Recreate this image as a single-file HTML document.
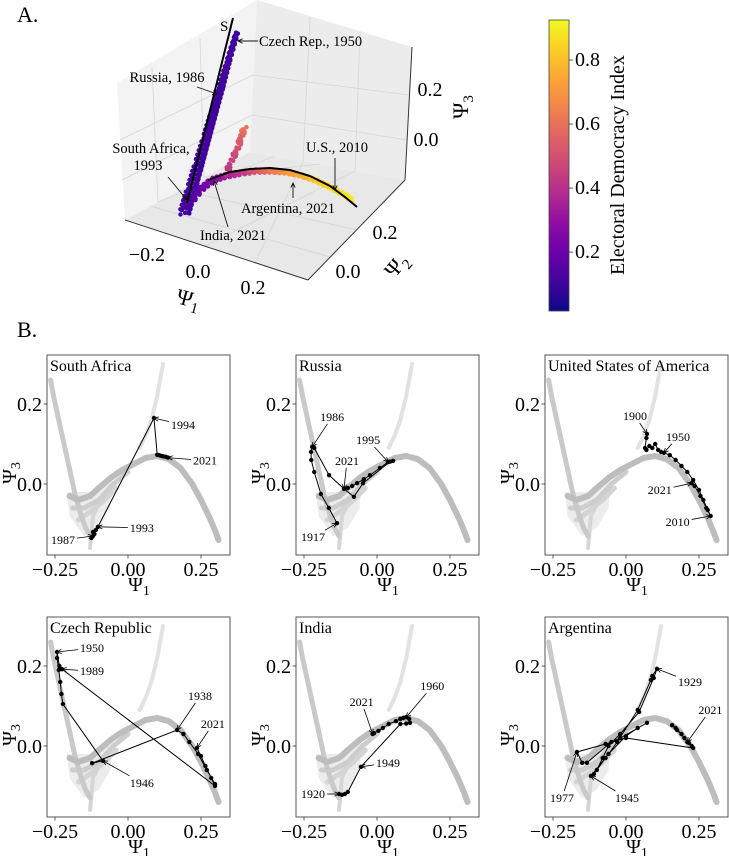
<!DOCTYPE html>
<html><head><meta charset="utf-8"><style>
html,body{margin:0;padding:0;background:#fff;}
svg{display:block;font-family:"Liberation Serif",serif;}
</style></head><body>
<svg id="fig" width="729" height="856" viewBox="0 0 729 856" xmlns="http://www.w3.org/2000/svg">
<text x="17" y="22" font-size="22">A.</text>
<text x="17" y="337" font-size="22">B.</text>
<g id="g3d">
  <polygon points="117,83 125,220 250,152 257,0" fill="#f3f3f3"/>
  <polygon points="257,0 250,152 405,180 412,47" fill="#ececec"/>
  <polygon points="125,220 250,152 405,180 308,280" fill="#e8e8e8"/>
  <g stroke="#d6d6d6" stroke-width="0.8" fill="none">
    <line x1="152" y1="67" x2="158" y2="202"/><line x1="200" y1="38" x2="204" y2="177"/>
    <line x1="310" y1="17" x2="303" y2="162"/><line x1="360" y1="32" x2="355" y2="171"/>
    <line x1="120" y1="140" x2="253" y2="75"/><line x1="122" y1="180" x2="252" y2="115"/>
    <line x1="253" y1="75" x2="409" y2="95"/><line x1="252" y1="115" x2="407" y2="140"/>
    <line x1="150" y1="206" x2="330" y2="257"/><line x1="180" y1="190" x2="357" y2="230"/>
    <line x1="158" y1="202" x2="275" y2="156"/><line x1="204" y1="177" x2="320" y2="164"/>
    <line x1="255" y1="263" x2="303" y2="162"/><line x1="205" y1="246" x2="355" y2="171"/>
  </g>
  <g stroke="#333" stroke-width="1">
    <line x1="125" y1="220" x2="308" y2="280"/><line x1="308" y1="280" x2="405" y2="180"/><line x1="405" y1="180" x2="412" y2="47"/>
  </g>
  <g id="pts3d"></g>
  <g font-size="20" text-anchor="middle" dominant-baseline="central">
    <text x="147" y="255">−0.2</text><text x="198" y="272">0.0</text><text x="253" y="288">0.2</text>
    <text x="385" y="233">0.2</text><text x="348" y="272">0.0</text>
    <text x="430" y="90">0.2</text><text x="426" y="140">0.0</text>
  </g>
  <text x="188" y="306" font-size="22" text-anchor="middle" transform="rotate(15 188 300)">Ψ<tspan dy="5" font-size="15">1</tspan></text>
  <text x="398" y="272" font-size="22" text-anchor="middle" transform="rotate(-50 398 267)">Ψ<tspan dy="5" font-size="15">2</tspan></text>
  <text x="462" y="113" font-size="22" text-anchor="middle" transform="rotate(-90 462 107)">Ψ<tspan dy="5" font-size="15">3</tspan></text>
  <g font-size="14.5" stroke-width="0.9">
    <text x="220" y="31" font-size="15">S</text>
    <text x="259" y="46">Czech Rep., 1950</text>
    <text x="167" y="82" text-anchor="middle">Russia, 1986</text>
    <text x="151" y="153" text-anchor="middle">South Africa,</text>
    <text x="148" y="170" text-anchor="middle">1993</text>
    <text x="233" y="240" text-anchor="middle">India, 2021</text>
    <text x="288" y="213" text-anchor="middle">Argentina, 2021</text>
    <text x="337" y="152" text-anchor="middle">U.S., 2010</text>
  </g>
  <g id="arr3d" stroke="#111" stroke-width="0.9" fill="none"></g>
</g>
<g id="cbar">
  <defs><linearGradient id="plasma" x1="0" y1="1" x2="0" y2="0">
    <stop offset="0" stop-color="#0d0887"/><stop offset="0.1" stop-color="#41049d"/><stop offset="0.2" stop-color="#6a00a8"/><stop offset="0.3" stop-color="#8f0da4"/><stop offset="0.4" stop-color="#b12a90"/><stop offset="0.5" stop-color="#cc4778"/><stop offset="0.6" stop-color="#e16462"/><stop offset="0.7" stop-color="#f2844b"/><stop offset="0.8" stop-color="#fca636"/><stop offset="0.9" stop-color="#fcce25"/><stop offset="1" stop-color="#f0f921"/>
  </linearGradient></defs>
  <rect x="549" y="20" width="20" height="291" fill="url(#plasma)" stroke="#444" stroke-width="0.8"/>
  <g id="cbticks"></g>
  <text x="618" y="165" font-size="20" text-anchor="middle" dominant-baseline="central" transform="rotate(-90 618 165)">Electoral Democracy Index</text>
</g>
<g id="panels"></g>
</svg>
<script>
// ---------- 3D data (Psi1, Psi2, Psi3) and EDI ----------
const spikeP1=[-0.110,-0.124,-0.138,-0.152,-0.166,-0.179,-0.194,-0.210];
const spikeP2=[-0.006,0.046,0.098,0.150,0.202,0.253,0.305,0.368];
const spikeP3=[-0.13,-0.08,-0.03,0.02,0.07,0.12,0.17,0.23];
const spikeEDI=[0.10,0.12,0.10,0.12,0.10,0.10,0.12,0.10];
const curveP1=[-0.114,-0.089,-0.0545,-0.0075,0.048,0.099,0.1526,0.2005,0.246,0.289,0.331,0.369,0.382];
const curveP2=[0.008,0.0385,0.052,0.0547,0.056,0.063,0.067,0.078,0.0915,0.1086,0.127,0.151,0.168];
const curveP3=[-0.12,-0.07,-0.03,0.0,0.03,0.05,0.065,0.068,0.06,0.04,0.01,-0.03,-0.06];
const curveEDI=[0.12,0.18,0.25,0.32,0.40,0.50,0.60,0.68,0.75,0.80,0.85,0.88,0.90];
const armP1=[0.0269,0.0373,0.0559,0.066,0.087];
const armP2=[0.0161,0.0316,0.0366,0.0429,0.0307];
const armP3=[0.05,0.10,0.15,0.20,0.25];
const armEDI=[0.40,0.45,0.50,0.55,0.62];
const sLineP1=[-0.125,-0.2396];
const sLineP2=[0.022,0.3857];
const sLineP3=[-0.12,0.26];
const fitP1=[-0.059,0.0096,0.079,0.148,0.212,0.278,0.342,0.388,0.4225];
const fitP2=[0.0389,0.057,0.0641,0.073,0.087,0.0994,0.1135,0.127,0.1407];
const fitP3=[-0.02,0.02,0.05,0.07,0.072,0.06,0.03,-0.01,-0.05];
const cbTicks=[0.2,0.4,0.6,0.8];
const cbMin=0.016, cbMax=0.925;

const NS='http://www.w3.org/2000/svg';
function mk(tag,attrs,parent){const e=document.createElementNS(NS,tag);for(const k in attrs)e.setAttribute(k,attrs[k]);if(parent)parent.appendChild(e);return e;}
function proj(a,b,c){return [215.5+265*a+210*b,188.7+87*a-220*b-250*c];}
const plasma=[[13,8,135],[65,4,157],[106,0,168],[143,13,164],[177,42,144],[204,71,120],[225,100,98],[242,132,75],[252,166,54],[252,206,37],[240,249,33]];
function cmap(v){let t=(v-cbMin)/(cbMax-cbMin);t=Math.max(0,Math.min(1,t));const f=t*10,i=Math.min(9,Math.floor(f)),r=f-i;const a=plasma[i],b=plasma[i+1];return 'rgb('+a.map((x,k)=>Math.round(x+(b[k]-x)*r)).join(',')+')';}
function cbY(v){return 311-(v-cbMin)/(cbMax-cbMin)*291;}

const cbt=document.getElementById('cbticks');
cbTicks.forEach(v=>{
  const ln=mk('line',{x1:569,x2:573,y1:cbY(v),y2:cbY(v),stroke:'#333','stroke-width':0.8},cbt);
  
  
  const t=mk('text',{x:575,y:cbY(v),'font-size':20,'dominant-baseline':'central'},cbt);
  
  
  t.textContent=v.toFixed(1);
});

const g3=document.getElementById('pts3d');
const jit=[[0,0],[-1.6,1.2],[1.5,-1],[-0.8,-1.8],[1.2,1.7],[-1.9,-0.3],[0.6,2.1]];
function series3d(P1,P2,P3,E,name,steps,spreadFn){
  const g=mk('g',{},g3);
  
  
  const n=P1.length-1;
  for(let i=0;i<n;i++){
    for(let s=0;s<steps;s++){
      const r=s/steps;
      const p=proj(P1[i]+(P1[i+1]-P1[i])*r,P2[i]+(P2[i+1]-P2[i])*r,P3[i]+(P3[i+1]-P3[i])*r);
      const col=cmap(E[i]+(E[i+1]-E[i])*r);
      const j=jit[s%jit.length];
      const k=spreadFn((i+r)/n);
      const c=mk('circle',{cx:p[0]+j[0]*k,cy:p[1]+j[1]*k*0.6,r:2.2,fill:col},g);
      
      
    }
  }
}
series3d(spikeP1,spikeP2,spikeP3,spikeEDI,'autocracy-spike-points',40,t=>0.8+(1-t)*2.2);
series3d(curveP1,curveP2,curveP3,curveEDI,'democracy-curve-points',22,t=>1.6-t*0.6);
series3d(armP1,armP2,armP3,armEDI,'secondary-arm-points',10,t=>1.2);
function line3d(P1,P2,P3,name){
  const pts=P1.map((v,i)=>proj(v,P2[i],P3[i]).join(',')).join(' ');
  const pl=mk('polyline',{points:pts,fill:'none',stroke:'#000','stroke-width':2},g3);
  
  
}
line3d(sLineP1,sLineP2,sLineP3,'s-curve-line');
line3d(fitP1,fitP2,fitP3,'fitted-curve-line');

function arrowTo(g,x1,y1,x2,y2){
  mk('line',{x1:x1,y1:y1,x2:x2,y2:y2},g);
  const a=Math.atan2(y2-y1,x2-x1),h=5,w=0.45;
  mk('polyline',{points:(x2-h*Math.cos(a-w))+','+(y2-h*Math.sin(a-w))+' '+x2+','+y2+' '+(x2-h*Math.cos(a+w))+','+(y2-h*Math.sin(a+w))},g);
}
const a3=document.getElementById('arr3d');


[[258,41,238,41],[197,87,217,94],[168,177,187,200],[228,227,214,181],[293,198,293,183],[335,158,335,190]].forEach(a=>arrowTo(a3,a[0],a[1],a[2],a[3]));

// ---------- 2D panels ----------
const bandLeftX=[-0.265,-0.255,-0.24,-0.225,-0.21,-0.195,-0.18,-0.16,-0.145,-0.13];
const bandLeftY=[0.26,0.22,0.17,0.12,0.07,0.02,-0.03,-0.08,-0.11,-0.13];
const bandMainX=[-0.2,-0.17,-0.13,-0.1,-0.06,-0.02,0.02,0.06,0.1,0.14,0.18,0.22,0.25,0.28,0.3,0.31];
const bandMainY=[-0.03,-0.04,-0.03,-0.01,0.015,0.035,0.05,0.065,0.07,0.062,0.04,0.0,-0.04,-0.085,-0.12,-0.14];
const bandLow1X=[-0.19,-0.15,-0.1,-0.05,0.0];
const bandLow1Y=[-0.06,-0.06,-0.04,0.0,0.03];
const bandLow2X=[-0.17,-0.13,-0.08,-0.04];
const bandLow2Y=[-0.09,-0.07,-0.04,-0.01];
const armRX=[0.12,0.1,0.08,0.06,0.04];
const armRY=[0.3,0.22,0.16,0.12,0.09];
const spikeLowX=[-0.13,-0.125,-0.12,-0.1];
const spikeLowY=[-0.16,-0.12,-0.08,-0.05];

const saX=[-0.12,-0.125,-0.12,-0.115,-0.11,-0.103,0.089,0.1,0.107,0.115,0.122,0.13,0.137];
const saY=[-0.13,-0.135,-0.12,-0.125,-0.115,-0.107,0.165,0.073,0.072,0.07,0.069,0.068,0.066];
const saLabels=['1994','2021','1993','1987'];
const saIdx=[6,12,5,0];
const saOff=[[29,7],[37,3],[44,1],[-30,4]];

const ruX=[-0.137,-0.165,-0.192,-0.215,-0.225,-0.226,-0.222,-0.215,-0.164,-0.113,-0.1,-0.085,-0.068,-0.045,-0.024,0.01,0.038,0.055,0.045,-0.048,-0.079,-0.113];
const ruY=[-0.098,-0.06,-0.025,0.03,0.06,0.08,0.093,0.09,0.022,-0.012,-0.01,-0.005,0.002,0.012,0.022,0.04,0.055,0.058,0.056,0.002,-0.032,-0.012];
const ruLabels=['1986','1995','2021','1917'];
const ruIdx=[6,16,21,0];
const ruOff=[[20,-30],[-20,-22],[3,-28],[-24,14]];

const usX=[0.072,0.07,0.065,0.07,0.08,0.09,0.1,0.11,0.12,0.13,0.15,0.17,0.19,0.21,0.23,0.25,0.265,0.28,0.29,0.275,0.255,0.235,0.225];
const usY=[0.125,0.115,0.09,0.085,0.095,0.09,0.1,0.085,0.08,0.078,0.072,0.06,0.045,0.03,0.01,-0.015,-0.04,-0.065,-0.08,-0.06,-0.03,-0.005,0.002];
const usLabels=['1900','1950','2021','2010'];
const usIdx=[0,9,22,18];
const usOff=[[-12,-18],[14,-16],[-32,7],[-33,6]];

const czX=[0.298,0.27,0.24,0.21,0.19,0.168,-0.123,-0.086,-0.223,-0.228,-0.232,-0.237,-0.243,-0.243,-0.235,-0.226,0.298,0.285,0.265,0.25,0.236];
const czY=[-0.095,-0.06,-0.02,0.01,0.03,0.04,-0.043,-0.037,0.105,0.13,0.16,0.19,0.22,0.235,0.2,0.192,-0.1,-0.08,-0.05,-0.025,-0.005];
const czLabels=['1950','1989','1938','2021','1946'];
const czIdx=[13,15,5,20,7];
const czOff=[[35,-4],[30,2],[23,-34],[16,-24],[39,22]];

const inX=[-0.13,-0.12,-0.11,-0.1,-0.055,0.08,0.1,0.113,0.11,0.1,0.09,0.08,0.065,0.04,0.02,0.005,-0.01,-0.015];
const inY=[-0.12,-0.122,-0.12,-0.115,-0.052,0.055,0.056,0.058,0.068,0.072,0.07,0.068,0.062,0.055,0.045,0.038,0.032,0.03];
const inLabels=['1960','2021','1949','1920'];
const inIdx=[9,17,4,0];
const inOff=[[26,-31],[-11,-32],[27,-4],[-26,0]];

const arX=[-0.12,-0.11,-0.07,-0.03,0.04,0.085,0.09,0.106,0.095,0.045,-0.02,-0.06,-0.08,-0.1,-0.12,-0.06,0.0,0.04,0.072,-0.02,-0.05,-0.134,-0.15,-0.168,-0.07,0.0,0.23,0.21,0.19,0.17,0.158,0.175,0.2,0.215,0.225];
const arY=[-0.075,-0.07,-0.03,0.01,0.09,0.165,0.175,0.193,0.17,0.085,0.03,0.0,-0.03,-0.06,-0.075,-0.02,0.025,0.045,0.058,0.02,0.01,-0.042,-0.042,-0.015,0.005,0.02,-0.005,0.01,0.03,0.045,0.052,0.04,0.02,0.008,0.0];
const arLabels=['1929','2021','1977','1945'];
const arIdx=[7,27,23,0];
const arOff=[[33,13],[23,-32],[-15,46],[36,22]];

const xTicks=[-0.25,0.0,0.25];
const xTickLabels=['−0.25','0.00','0.25'];
const yTicks=[0.0,0.2];
const yTickLabels=['0.0','0.2'];

const PW=183,PH=200;
const panelsG=document.getElementById('panels');
let clipN=0;
function drawPanel(L,T,title,X,Y,labels,idx,off,slug){
  const sx=v=>L+81+v*292, sy=v=>T+49+(0.2-v)*400;
  const g=mk('g',{},panelsG);
  
  
  const cid='clip'+(clipN++);
  const cp=mk('clipPath',{id:cid},g);mk('rect',{x:L,y:T,width:PW,height:PH},cp);
  const cg=mk('g',{'clip-path':'url(#'+cid+')'},g);
  
  
  // faint scatter region under the hump
  const blob=mk('polygon',{points:[[-0.21,-0.02],[-0.12,-0.02],[-0.05,0.02],[-0.06,-0.06],[-0.1,-0.11],[-0.15,-0.13],[-0.2,-0.08]].map(p=>sx(p[0])+','+sy(p[1])).join(' '),fill:'#ececec'},cg);
  
  
  function band(bx,by,col,op,w){
    const pl=mk('polyline',{points:bx.map((v,i)=>sx(v)+','+sy(by[i])).join(' '),fill:'none',stroke:col,'stroke-opacity':op,'stroke-width':w,'stroke-linecap':'round','stroke-linejoin':'round'},cg);
    
    
  }
  band(armRX,armRY,'#e2e2e2',1,4);
  band(spikeLowX,spikeLowY,'#d6d6d6',1,4);
  band(bandLow2X,bandLow2Y,'#d4d4d4',1,5);
  band(bandLow1X,bandLow1Y,'#cdcdcd',1,5);
  band(bandLeftX,bandLeftY,'#c9c9c9',1,5);
  band(bandMainX,bandMainY,'#bdbdbd',1,6);
  mk('rect',{x:L,y:T,width:PW,height:PH,fill:'none',stroke:'#555','stroke-width':1},g);
  const tl=mk('polyline',{points:X.map((v,i)=>sx(v)+','+sy(Y[i])).join(' '),fill:'none',stroke:'#000','stroke-width':1},g);
  
  
  X.forEach((v,i)=>{
    const c=mk('circle',{cx:sx(v),cy:sy(Y[i]),r:2.2,fill:'#000'},g);
    
    
  });
  labels.forEach((lab,k)=>{
    const tx=sx(X[idx[k]]),ty=sy(Y[idx[k]]);
    const cx=tx+off[k][0],cy=ty+off[k][1];
    const t=mk('text',{x:cx,y:cy,'font-size':12,'text-anchor':'middle','dominant-baseline':'central'},g);
    
    
    t.textContent=lab;
    const dx=tx-cx,dy=ty-cy;const hw=14,hh=7;
    const s=Math.min(hw/Math.abs(dx||1e-6),hh/Math.abs(dy||1e-6));
    const ag=mk('g',{stroke:'#000','stroke-width':0.8,fill:'none'},g);
    
    
    arrowTo(ag,cx+dx*s,cy+dy*s,tx,ty);
  });
  const tt=mk('text',{x:L+3,y:T+16,'font-size':16},g);
  
  
  tt.textContent=title;
  xTicks.forEach((v,i)=>{
    mk('line',{x1:sx(v),x2:sx(v),y1:T+PH,y2:T+PH+3.5,stroke:'#333','stroke-width':0.8},g);
    const t=mk('text',{x:sx(v),y:T+221,'font-size':20,'text-anchor':'middle'},g);
    
    
    t.textContent=xTickLabels[i];
  });
  yTicks.forEach((v,i)=>{
    mk('line',{x1:L-3.5,x2:L,y1:sy(v),y2:sy(v),stroke:'#333','stroke-width':0.8},g);
    const t=mk('text',{x:L-5,y:sy(v)+7,'font-size':20,'text-anchor':'end'},g);
    
    
    t.textContent=yTickLabels[i];
  });
  const xl=mk('text',{x:L+92,y:T+236,'font-size':20,'text-anchor':'middle'},g);
  
  
  xl.innerHTML='Ψ<tspan dy="4" font-size="14">1</tspan>';
  const yl=mk('text',{x:L-37,y:T+124,'font-size':20,'text-anchor':'middle',transform:'rotate(-90 '+(L-37)+' '+(T+118)+')'},g);
  
  
  yl.innerHTML='Ψ<tspan dy="4" font-size="14">3</tspan>';
}
drawPanel(47,355,'South Africa',saX,saY,saLabels,saIdx,saOff,'south-africa');
drawPanel(296,355,'Russia',ruX,ruY,ruLabels,ruIdx,ruOff,'russia');
drawPanel(545,355,'United States of America',usX,usY,usLabels,usIdx,usOff,'usa');
drawPanel(47,617,'Czech Republic',czX,czY,czLabels,czIdx,czOff,'czech-republic');
drawPanel(296,617,'India',inX,inY,inLabels,inIdx,inOff,'india');
drawPanel(545,617,'Argentina',arX,arY,arLabels,arIdx,arOff,'argentina');
</script>
</body></html>
